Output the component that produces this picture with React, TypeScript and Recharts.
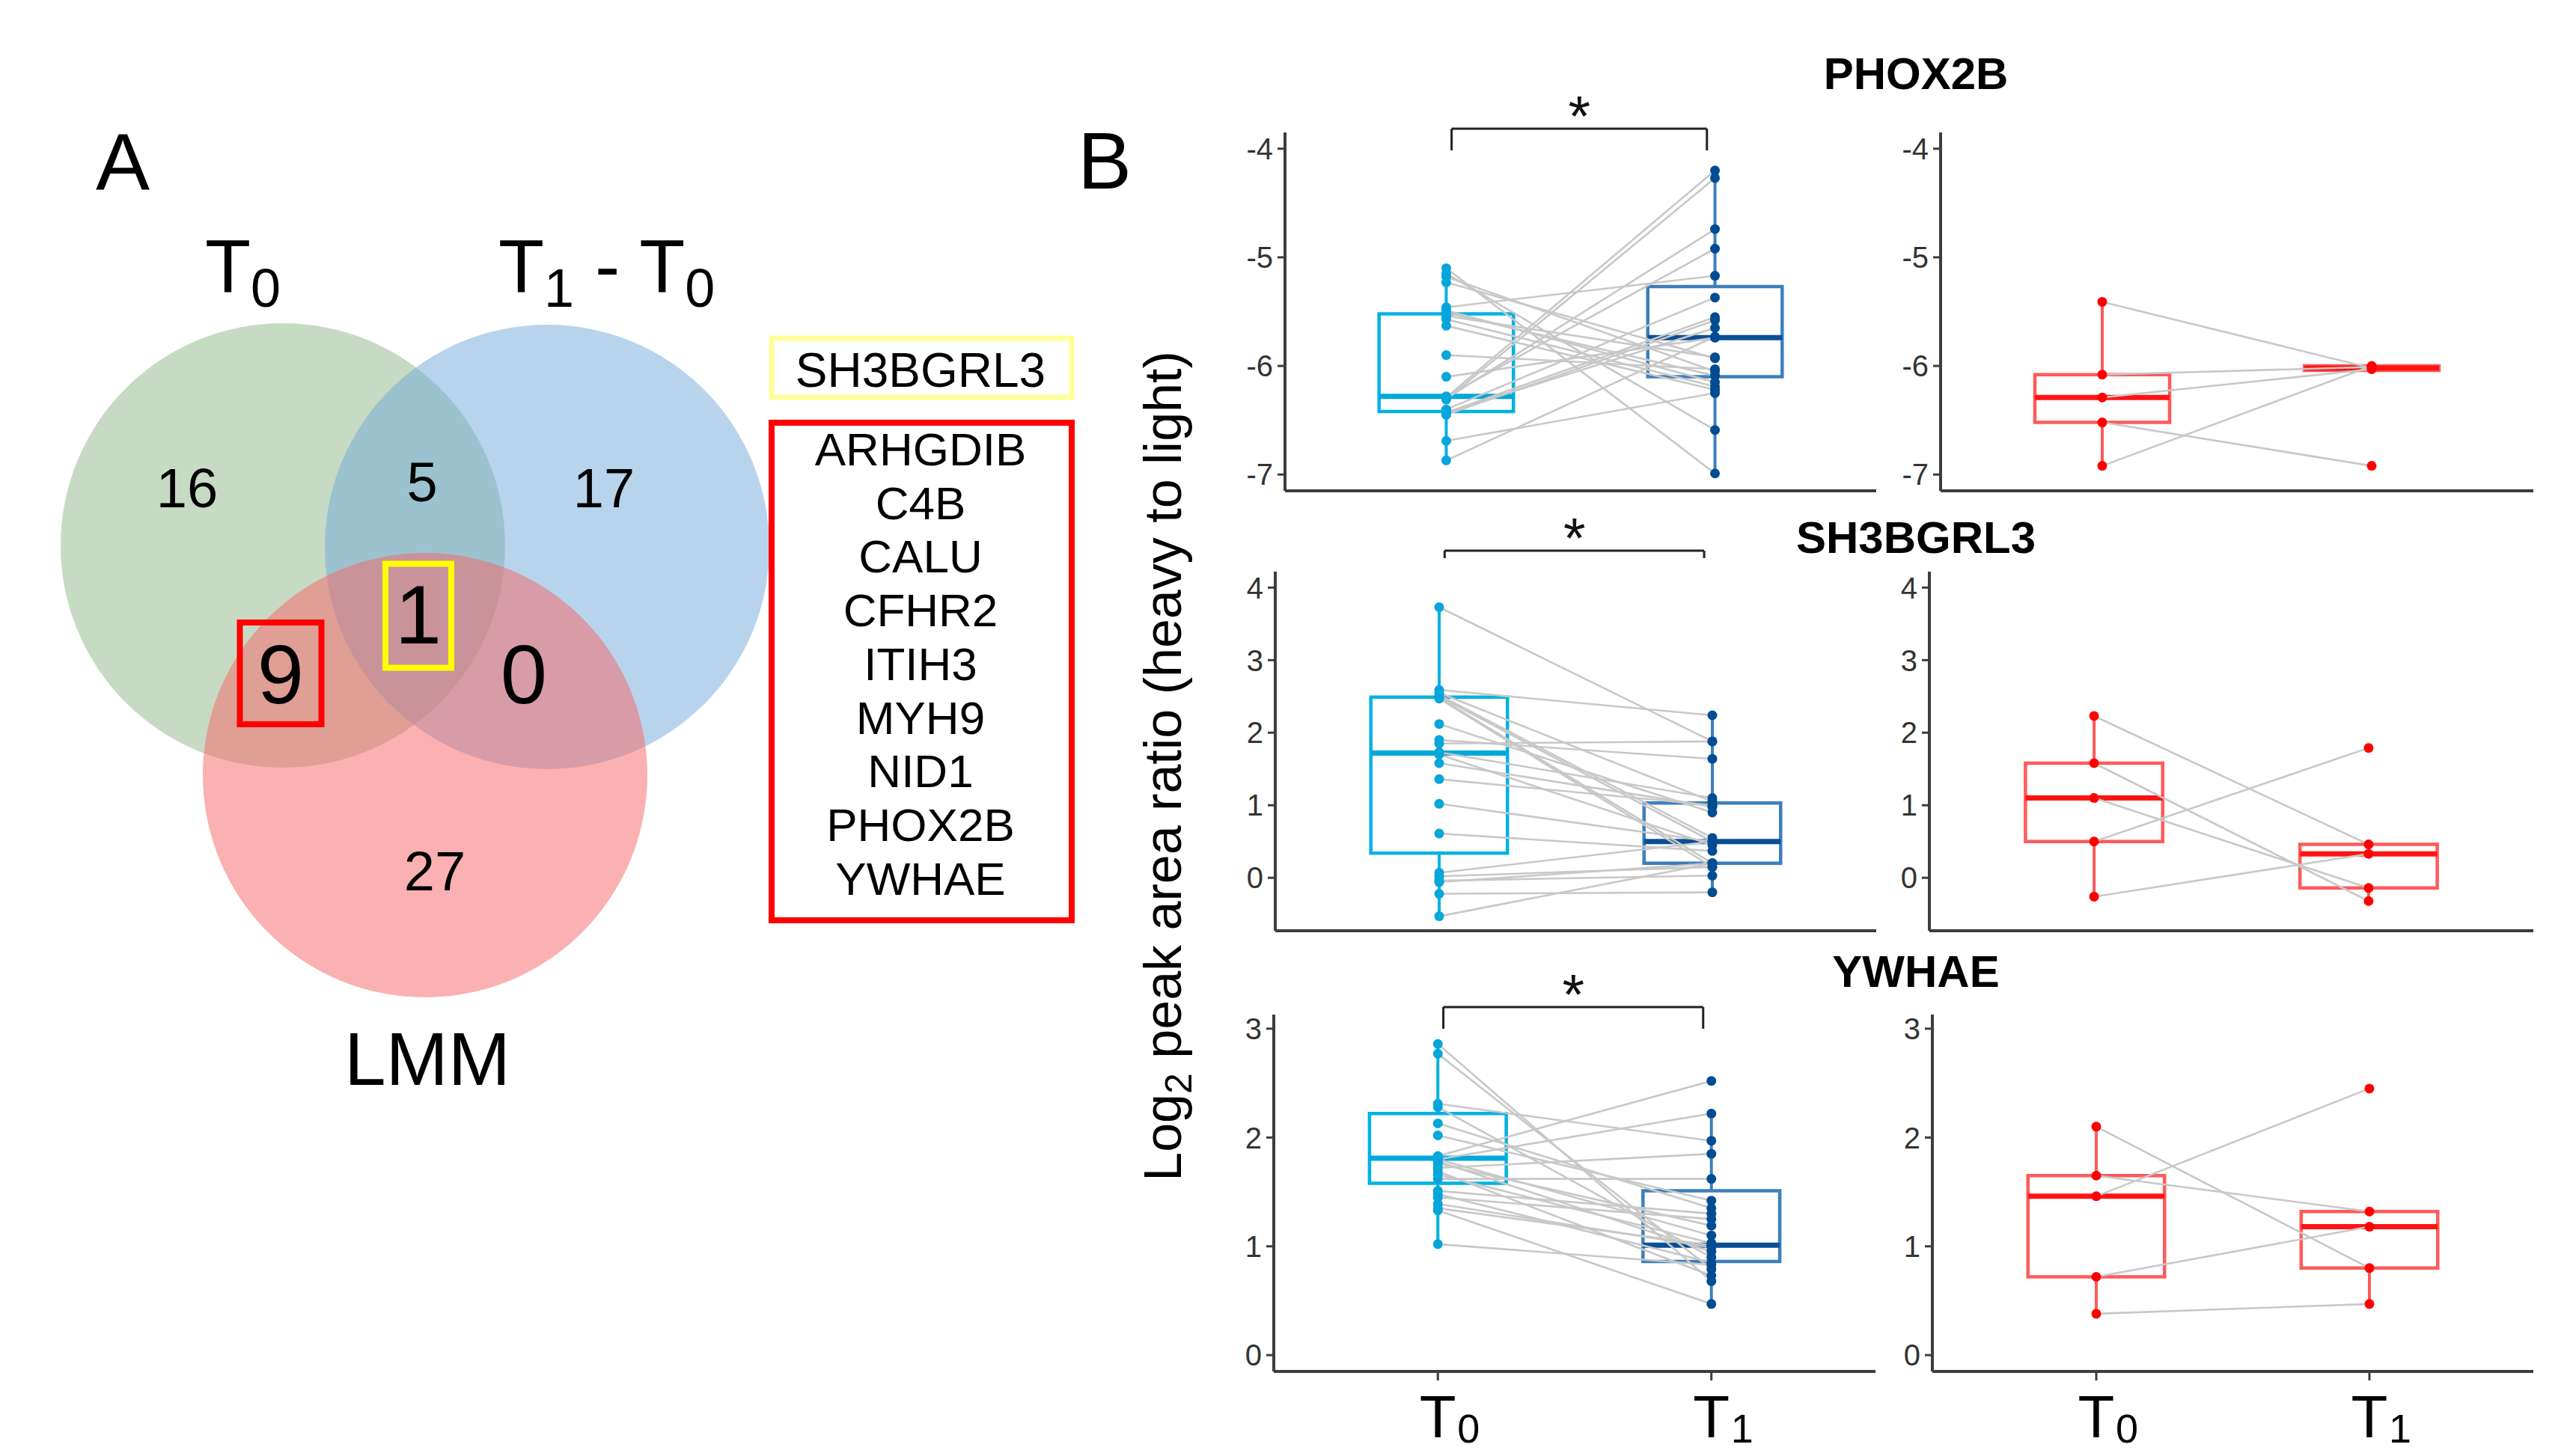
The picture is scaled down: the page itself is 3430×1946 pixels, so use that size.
import React from 'react'
import {
  ComposedChart, ScatterChart, Scatter, Line, XAxis, YAxis,
  ReferenceArea, ReferenceLine, ReferenceDot,
} from 'recharts'

const FONT = '"Liberation Sans", Arial, Helvetica, sans-serif'
const AXIS = '#3d3d3d'

// ---------- panel A: venn ----------
const VENN_SETS = ['T0', 'T1 - T0', 'LMM']
// regions: T0 only, T0&T1-T0, T1-T0 only, all three, T0&LMM, T1-T0&LMM, LMM only
const VENN_COUNTS = [16, 5, 17, 1, 9, 0, 27]
const SHARED_ALL = ['SH3BGRL3']
const SHARED_T0_LMM = ['ARHGDIB', 'C4B', 'CALU', 'CFHR2', 'ITIH3', 'MYH9', 'NID1', 'PHOX2B', 'YWHAE']

const VENN_LAYOUT = {
  centers: [[378, 729], [731, 731], [568, 1036]],
  r: 297,
  fills: ['#8fb689', '#72aadb', '#f76464'],
  countPos: [[250, 651], [564, 643], [807, 651], [559, 820], [375, 900], [700, 900], [581, 1163]],
  countSize: [74, 74, 74, 112, 112, 112, 74],
  boxes: { 3: { w: 88, h: 139, dy: 3, color: '#ffff00' }, 4: { w: 109, h: 136, dy: 0, color: '#ff0000' } } as Record<number, { w: number; h: number; dy: number; color: string }>,
}

// ---------- panel B: paired box plots ----------
const PROTEINS = ['PHOX2B', 'SH3BGRL3', 'YWHAE']
const TIMEPOINTS = ['T0', 'T1']

const PHOX2B_TICKS = [-7, -6, -5, -4]
const SH3BGRL3_TICKS = [0, 1, 2, 3, 4]
const YWHAE_TICKS = [0, 1, 2, 3]

// left column (large cohort), paired by subject index
const PHOX2B_T0 = [-5.10, -5.15, -5.18, -5.23, -5.46, -5.49, -5.51, -5.54, -5.57, -5.63, -5.90, -6.10, -6.29, -6.31, -6.30, -6.28, -6.40, -6.43, -6.45, -6.43, -6.69, -6.87]
const PHOX2B_T1 = [-6.99, -6.59, -6.05, -5.93, -5.17, -6.15, -6.09, -5.92, -6.19, -6.22, -6.03, -5.74, -4.20, -4.27, -4.74, -4.92, -5.37, -5.55, -5.58, -5.65, -6.25, -5.73]
// [lower whisker, q1, median, q3, upper whisker]
const PHOX2B_BOX_T0 = [-6.87, -6.42, -6.28, -5.52, -5.10]
const PHOX2B_BOX_T1 = [-6.99, -6.10, -5.74, -5.27, -4.20]

const SH3BGRL3_T0 = [3.73, 2.59, 2.55, 2.52, 2.50, 2.48, 2.47, 2.12, 1.90, 1.85, 1.73, 1.70, 1.58, 1.36, 1.02, 0.61, 0.07, 0.02, -0.04, -0.06, -0.22, -0.53]
const SH3BGRL3_T1 = [1.88, 2.24, 1.05, 0.55, 0.50, 0.20, 0.15, 0.90, 1.64, 1.88, 1.10, 0.45, 0.98, 1.00, 0.50, 0.37, 0.50, 0.15, 0.03, 0.20, -0.20, 0.20]
const SH3BGRL3_BOX_T0 = [-0.53, 0.34, 1.72, 2.49, 3.73]
const SH3BGRL3_BOX_T1 = [-0.20, 0.20, 0.50, 1.03, 2.24]

const YWHAE_T0 = [2.86, 2.77, 2.31, 2.28, 2.13, 2.02, 1.83, 1.80, 1.78, 1.76, 1.72, 1.69, 1.66, 1.62, 1.51, 1.48, 1.45, 1.39, 1.35, 1.33, 1.02, 1.80]
const YWHAE_T1 = [0.68, 0.79, 1.97, 0.90, 1.35, 1.42, 2.52, 2.22, 0.95, 1.19, 1.85, 0.73, 1.03, 1.62, 1.30, 0.85, 1.25, 0.99, 1.01, 0.47, 0.83, 1.10]
const YWHAE_BOX_T0 = [1.02, 1.58, 1.81, 2.22, 2.86]
const YWHAE_BOX_T1 = [0.47, 0.86, 1.01, 1.51, 2.22]

// right column (small cohort)
const PHOX2B_R_T0 = [-5.41, -6.08, -6.29, -6.52, -6.92]
const PHOX2B_R_T1 = [-6.02, -6.01, -6.03, -6.92, -6.00]
const PHOX2B_R_BOX_T0 = [-6.92, -6.52, -6.29, -6.08, -5.41]
const PHOX2B_R_BOX_T1 = [-6.04, -6.04, -6.02, -6.00, -6.00]

const SH3BGRL3_R_T0 = [2.23, 1.58, 1.10, 0.50, -0.26]
const SH3BGRL3_R_T1 = [0.46, -0.32, -0.14, 1.79, 0.33]
const SH3BGRL3_R_BOX_T0 = [-0.26, 0.50, 1.10, 1.58, 2.23]
const SH3BGRL3_R_BOX_T1 = [-0.32, -0.14, 0.33, 0.46, 0.46]

const YWHAE_R_T0 = [2.10, 1.65, 1.46, 0.72, 0.38]
const YWHAE_R_T1 = [0.80, 1.32, 2.45, 1.18, 0.47]
const YWHAE_R_BOX_T0 = [0.38, 0.72, 1.46, 1.65, 2.10]
const YWHAE_R_BOX_T1 = [0.47, 0.80, 1.18, 1.32, 1.32]

const BLUE = { box: ['#00b2e2', '#3d7fbc'], med: ['#00a8dc', '#0a4f95'], pt: ['#07a6da', '#004c93'] }
const RED = { box: ['#ff5a5a', '#ff5a5a'], med: ['#ff1414', '#ff1414'], pt: ['#ff0000', '#ff0000'] }

type Palette = typeof BLUE
type PanelDef = {
  id: string
  t0: number[]; t1: number[]
  box0: number[]; box1: number[]
  domain: [number, number]
  ticks: number[]
  palette: Palette
  plot: { x: number; y: number; w: number; h: number }
  bracket?: [number, number]
  showX: boolean
}

const PANELS: PanelDef[] = [
  { id: 'phox-l', t0: PHOX2B_T0, t1: PHOX2B_T1, box0: PHOX2B_BOX_T0, box1: PHOX2B_BOX_T1, domain: [-7.15, -3.85], ticks: PHOX2B_TICKS, palette: BLUE, plot: { x: 1717, y: 177, w: 790, h: 479 }, bracket: [-3.816, -4.015], showX: false },
  { id: 'phox-r', t0: PHOX2B_R_T0, t1: PHOX2B_R_T1, box0: PHOX2B_R_BOX_T0, box1: PHOX2B_R_BOX_T1, domain: [-7.15, -3.85], ticks: PHOX2B_TICKS, palette: RED, plot: { x: 2593, y: 177, w: 792, h: 479 }, showX: false },
  { id: 'sh3-l', t0: SH3BGRL3_T0, t1: SH3BGRL3_T1, box0: SH3BGRL3_BOX_T0, box1: SH3BGRL3_BOX_T1, domain: [-0.73, 4.22], ticks: SH3BGRL3_TICKS, palette: BLUE, plot: { x: 1704, y: 764, w: 803, h: 480 }, bracket: [4.509, 4.406], showX: false },
  { id: 'sh3-r', t0: SH3BGRL3_R_T0, t1: SH3BGRL3_R_T1, box0: SH3BGRL3_R_BOX_T0, box1: SH3BGRL3_R_BOX_T1, domain: [-0.73, 4.22], ticks: SH3BGRL3_TICKS, palette: RED, plot: { x: 2578, y: 764, w: 807, h: 480 }, showX: false },
  { id: 'ywh-l', t0: YWHAE_T0, t1: YWHAE_T1, box0: YWHAE_BOX_T0, box1: YWHAE_BOX_T1, domain: [-0.15, 3.13], ticks: YWHAE_TICKS, palette: BLUE, plot: { x: 1702, y: 1356, w: 804, h: 477 }, bracket: [3.199, 3.0], showX: true },
  { id: 'ywh-r', t0: YWHAE_R_T0, t1: YWHAE_R_T1, box0: YWHAE_R_BOX_T0, box1: YWHAE_R_BOX_T1, domain: [-0.15, 3.13], ticks: YWHAE_TICKS, palette: RED, plot: { x: 2582, y: 1356, w: 803, h: 477 }, showX: true },
]

const TITLE_Y = [119, 739, 1319]
const BOX_HALF = 0.25
const YW = 140
const MT = 120

function TimeTick(props: any) {
  const { x, y, payload } = props
  const label = TIMEPOINTS[payload.value - 1]
  return (
    <g>
      <text x={x} y={y + 74} textAnchor="middle" fontSize={80} fill="#000" fontFamily={FONT}>{label[0]}</text>
      <text x={x + 26} y={y + 81} textAnchor="start" fontSize={54} fill="#000" fontFamily={FONT}>{label.slice(1)}</text>
    </g>
  )
}

function boxElements(x: number, b: number[], stroke: string, med: string, k: string) {
  const [lo, q1, m, q3, hi] = b
  return [
    <ReferenceLine key={k + 'wu'} segment={[{ x, y: q3 }, { x, y: hi }]} stroke={stroke} strokeWidth={4} ifOverflow="visible" />,
    <ReferenceLine key={k + 'wl'} segment={[{ x, y: lo }, { x, y: q1 }]} stroke={stroke} strokeWidth={4} ifOverflow="visible" />,
    <ReferenceArea key={k + 'b'} x1={x - BOX_HALF} x2={x + BOX_HALF} y1={q1} y2={q3} fill="none" fillOpacity={0} stroke={stroke} strokeWidth={4.5} ifOverflow="visible" />,
    <ReferenceLine key={k + 'm'} segment={[{ x: x - BOX_HALF, y: m }, { x: x + BOX_HALF, y: m }]} stroke={med} strokeWidth={7} ifOverflow="visible" />,
  ]
}

function PairedPanel(p: PanelDef) {
  const XH = p.showX ? 112 : 10
  const rows = TIMEPOINTS.map((_, j) => {
    const r: Record<string, number> = { x: j + 1 }
    p.t0.forEach((v, i) => { r['s' + i] = j === 0 ? v : p.t1[i] })
    return r
  })
  const pts0 = p.t0.map(v => ({ x: 1, y: v }))
  const pts1 = p.t1.map(v => ({ x: 2, y: v }))
  const dot = (color: string) => (s: any) => <circle cx={s.cx} cy={s.cy} r={6.5} fill={color} />
  const bx = [1.02, 1.97]
  return (
    <div style={{ position: 'absolute', left: p.plot.x - YW, top: p.plot.y - MT }}>
      <ComposedChart width={YW + p.plot.w + 10} height={MT + p.plot.h + XH} data={rows}
        margin={{ top: MT, right: 10, bottom: 0, left: 0 }}>
        <XAxis dataKey="x" type="number" domain={[0.4, 2.6]} ticks={[1, 2]} allowDataOverflow
          height={XH} interval={0}
          axisLine={{ stroke: AXIS, strokeWidth: 4 }}
          tickLine={p.showX ? { stroke: AXIS, strokeWidth: 3 } : false}
          tickSize={12}
          tick={p.showX ? <TimeTick /> : false} />
        <YAxis dataKey="y" type="number" domain={p.domain} ticks={p.ticks} allowDataOverflow
          width={YW} interval={0}
          axisLine={{ stroke: AXIS, strokeWidth: 4 }}
          tickLine={{ stroke: AXIS, strokeWidth: 3 }}
          tickSize={10} tickMargin={6}
          tick={{ fontSize: 40, fill: '#333', fontFamily: FONT }} />
        {boxElements(1, p.box0, p.palette.box[0], p.palette.med[0], 'b0')}
        {boxElements(2, p.box1, p.palette.box[1], p.palette.med[1], 'b1')}
        {p.t0.map((_, i) => (
          <Line key={'s' + i} dataKey={'s' + i} stroke="#c8c8c8" strokeWidth={2.6} dot={false}
            activeDot={false} isAnimationActive={false} />
        ))}
        <Scatter data={pts0} dataKey="y" shape={dot(p.palette.pt[0])} isAnimationActive={false} />
        <Scatter data={pts1} dataKey="y" shape={dot(p.palette.pt[1])} isAnimationActive={false} />
        {p.bracket && [
          <ReferenceLine key="bh" segment={[{ x: bx[0], y: p.bracket[0] }, { x: bx[1], y: p.bracket[0] }]} stroke="#222" strokeWidth={3} ifOverflow="visible" />,
          <ReferenceLine key="bl" segment={[{ x: bx[0], y: p.bracket[0] }, { x: bx[0], y: p.bracket[1] }]} stroke="#222" strokeWidth={3} ifOverflow="visible" />,
          <ReferenceLine key="br" segment={[{ x: bx[1], y: p.bracket[0] }, { x: bx[1], y: p.bracket[1] }]} stroke="#222" strokeWidth={3} ifOverflow="visible" />,
          <ReferenceDot key="star" x={(bx[0] + bx[1]) / 2} y={p.bracket[0]} r={1} ifOverflow="visible"
            shape={(s: any) => <text x={s.cx} y={s.cy + 9} textAnchor="middle" fontSize={76} fill="#111" fontFamily={FONT}>*</text>} />,
        ]}
      </ComposedChart>
    </div>
  )
}

function VennPanel() {
  const circles = VENN_SETS.map((name, i) => ({
    name, x: VENN_LAYOUT.centers[i][0], y: VENN_LAYOUT.centers[i][1], i,
  }))
  const counts = VENN_COUNTS.map((n, i) => ({
    n, x: VENN_LAYOUT.countPos[i][0], y: VENN_LAYOUT.countPos[i][1], i,
  }))
  return (
    <div style={{ position: 'absolute', left: 0, top: 0 }}>
      <ScatterChart width={1480} height={1500} margin={{ top: 0, right: 0, bottom: 0, left: 0 }}>
        <XAxis dataKey="x" type="number" domain={[0, 1480]} hide allowDataOverflow />
        <YAxis dataKey="y" type="number" domain={[0, 1500]} reversed hide allowDataOverflow />
        <Scatter data={circles} isAnimationActive={false}
          shape={(s: any) => (
            <circle cx={s.cx} cy={s.cy} r={VENN_LAYOUT.r} fill={VENN_LAYOUT.fills[s.payload.i]} fillOpacity={0.5} />
          )} />
        <Scatter data={counts} isAnimationActive={false}
          shape={(s: any) => {
            const i = s.payload.i
            const fs = VENN_LAYOUT.countSize[i]
            const bx = VENN_LAYOUT.boxes[i]
            return (
              <g>
                {bx && (
                  <rect x={s.cx - bx.w / 2} y={s.cy + bx.dy - bx.h / 2} width={bx.w} height={bx.h}
                    fill="none" stroke={bx.color} strokeWidth={8} />
                )}
                <text x={s.cx} y={s.cy + fs * 0.36} textAnchor="middle" fontSize={fs} fill="#000" fontFamily={FONT}>
                  {s.payload.n}
                </text>
              </g>
            )
          }} />
      </ScatterChart>
    </div>
  )
}

export default function App() {
  return (
    <div style={{ position: 'absolute', left: 0, top: 0, width: 3430, height: 1946, background: '#fff', overflow: 'hidden', fontFamily: FONT }}>
      <VennPanel />
      {PANELS.map(p => <PairedPanel key={p.id} {...p} />)}
      <svg width={3430} height={1946} style={{ position: 'absolute', left: 0, top: 0, pointerEvents: 'none' }} fontFamily={FONT}>
        <text x={164} y={254} textAnchor="middle" fontSize={108}>A</text>
        <text x={1440} y={252} fontSize={108}>B</text>

        <text x={274} y={390} fontSize={100}>T<tspan fontSize={72} dy={20}>0</tspan></text>
        <text x={666} y={390} fontSize={100}>
          T<tspan fontSize={72} dy={20}>1</tspan><tspan dy={-20}>{' - T'}</tspan><tspan fontSize={72} dy={20}>0</tspan>
        </text>
        <text x={571} y={1450} textAnchor="middle" fontSize={100}>{VENN_SETS[2]}</text>

        <rect x={1031} y={452} width={401} height={79} fill="none" stroke="#ffff99" strokeWidth={7} />
        {SHARED_ALL.map((g, i) => (
          <text key={g} x={1230} y={517 + i * 72} textAnchor="middle" fontSize={64}>{g}</text>
        ))}
        <rect x={1031} y={565} width={401} height={665} fill="none" stroke="#ff0000" strokeWidth={8} />
        {SHARED_T0_LMM.map((g, i) => (
          <text key={g} x={1230} y={622 + i * 71.7} textAnchor="middle" fontSize={62}>{g}</text>
        ))}

        {PROTEINS.map((name, i) => (
          <text key={name} x={2560} y={TITLE_Y[i]} textAnchor="middle" fontSize={60} fontWeight="bold">{name}</text>
        ))}

        <text transform="translate(1578,1024) rotate(-90)" textAnchor="middle" fontSize={70}>
          Log<tspan fontSize={50} dy={14}>2</tspan><tspan dy={-14}>{' peak area ratio (heavy to light)'}</tspan>
        </text>
      </svg>
    </div>
  )
}
